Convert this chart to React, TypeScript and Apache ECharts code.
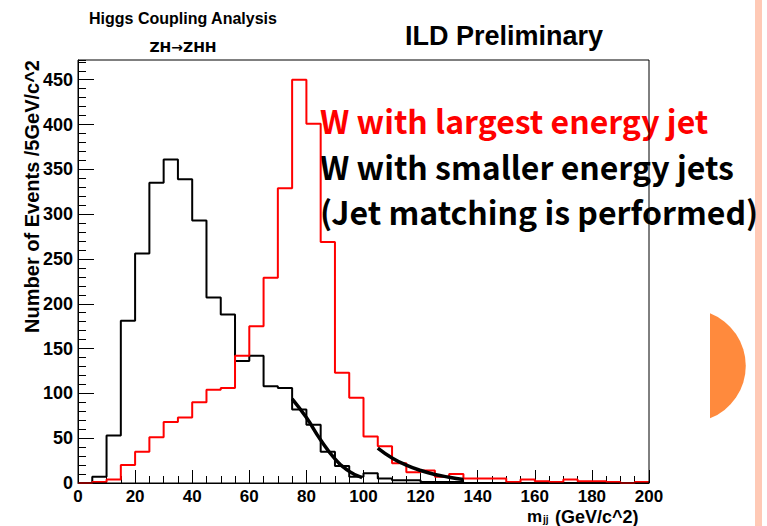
import React, { useEffect, useRef } from "react";
import * as echarts from "echarts";

// ---- data ----
const binWidth = 5;
const xMin = 0;
const xMax = 200;
const yMax = 472;
// counts per 5 GeV bin, 0..200
const blackCounts = [
  0, 7, 53, 181, 256, 335, 361, 339, 293, 207,
  188, 136, 142, 108, 106, 82, 65, 35, 19, 7,
  11, 5, 3, 3, 1, 1, 1, 0, 0, 0,
  0, 0, 0, 0, 0, 0, 0, 0, 0, 0,
];
const redCounts = [
  0, 1, 4, 20, 35, 51, 68, 73, 90, 104,
  106, 142, 175, 229, 329, 450, 401, 269, 123, 95,
  52, 41, 22, 12, 14, 7, 10, 5, 5, 5,
  1, 4, 2, 1, 4, 2, 2, 1, 0, 1,
];
const fitLowX = [75, 80, 85, 90, 95, 99.5];
const fitLowY = [94, 73, 48, 27, 13, 6];
const fitHighX = [105, 110, 115, 120, 125, 130, 135];
const fitHighY = [39, 28, 20, 14, 9.5, 6.5, 4];

const titleMain = "Higgs Coupling Analysis";
const titleSub = "ZH\u2192ZHH";
const titleILD = "ILD Preliminary";
const yTitle = "Number of Events /5GeV/c^2";
const legendLines = [
  { text: "W with largest energy jet", color: "#ff0000" },
  { text: "W with smaller energy jets", color: "#000000" },
  { text: "(Jet matching is performed)", color: "#000000" },
];

const halfDiscPath = "M710 313.3 A56.4 56.4 0 0 1 710 418.3 Z";
echarts.graphic.registerShape("halfDisc", echarts.graphic.extendPath(halfDiscPath, {}) as any);

function histData(counts: number[]) {
  const d: number[][] = counts.map((v, i) => [xMin + i * binWidth, v]);
  d.push([xMin + counts.length * binWidth, counts[counts.length - 1]]);
  return d;
}

const ARIAL = "'Liberation Sans', Arial, Helvetica, sans-serif";
const GOTHIC = "'Noto Sans CJK JP', 'Noto Sans', sans-serif";

export default function App() {
  const ref = useRef<HTMLDivElement>(null);
  useEffect(() => {
    if (!ref.current) return;
    const chart = echarts.init(ref.current, undefined, { renderer: "svg" });
    const tickLabel = { color: "#000", fontFamily: ARIAL, fontWeight: "bold" as const, fontSize: 18 };
    chart.setOption({
      animation: false,
      backgroundColor: "#fff",
      grid: { left: 78, right: 118, top: 60, bottom: 43, show: true, borderColor: "#000", borderWidth: 1, backgroundColor: "transparent", z: 5 },
      xAxis: [
        {
          type: "value", min: xMin, max: xMax, interval: 20,
          axisLine: { show: true, lineStyle: { color: "#000", width: 1 } },
          axisTick: { show: true, inside: true, length: 13, lineStyle: { color: "#000", width: 1 } },
          minorTick: { show: true, splitNumber: 4, length: 7, lineStyle: { color: "#000", width: 1 } },
          splitLine: { show: false }, minorSplitLine: { show: false },
          axisLabel: { ...tickLabel, fontSize: 17, margin: 5 },
        },
      ],
      yAxis: [
        {
          type: "value", min: 0, max: yMax, interval: 50,
          axisLine: { show: true, lineStyle: { color: "#000", width: 1 } },
          axisTick: { show: true, inside: true, length: 16, lineStyle: { color: "#000", width: 1 } },
          splitLine: { show: false },
          axisLabel: { ...tickLabel, margin: 5, showMaxLabel: false },
        },
        {
          type: "value", min: 0, max: yMax, interval: 10, position: "left",
          axisLine: { show: false },
          axisTick: { show: true, inside: true, length: 8, lineStyle: { color: "#000", width: 1 } },
          splitLine: { show: false },
          axisLabel: { show: false },
        },
      ],
      series: [
        {
          type: "line", step: "end", data: histData(blackCounts), showSymbol: false,
          lineStyle: { color: "#000", width: 2 }, itemStyle: { color: "#000" }, z: 2,
        },
        {
          type: "line", step: "end", data: histData(redCounts), showSymbol: false,
          lineStyle: { color: "#ff0000", width: 2 }, itemStyle: { color: "#ff0000" }, z: 3,
        },
        {
          type: "line", smooth: true, data: fitLowX.map((x, i) => [x, fitLowY[i]]), showSymbol: false,
          lineStyle: { color: "#000", width: 3.5 }, itemStyle: { color: "#000" }, z: 4,
        },
        {
          type: "line", smooth: true, data: fitHighX.map((x, i) => [x, fitHighY[i]]), showSymbol: false,
          lineStyle: { color: "#000", width: 3.5 }, itemStyle: { color: "#000" }, z: 4,
        },
      ],
      graphic: [
        { type: "rect", shape: { x: 755, y: 0, width: 7, height: 526 }, style: { fill: "#ffc9b6" }, z: 0 },
        { type: "halfDisc", x: 0, y: 0, style: { fill: "#ff8a3d" }, z: 0 },
        {
          type: "text", x: 183, y: 18, z: 10,
          style: { text: titleMain, fill: "#000", font: `bold 16px ${ARIAL}`, align: "center", verticalAlign: "middle" },
        },
        {
          type: "text", x: 183, y: 47, z: 10,
          style: { text: titleSub, fill: "#000", font: `bold 14px 'DejaVu Sans', sans-serif`, align: "center", verticalAlign: "middle" },
        },
        {
          type: "text", x: 504, y: 36, z: 10,
          style: { text: titleILD, fill: "#000", font: `bold 27px ${ARIAL}`, align: "center", verticalAlign: "middle" },
        },
        {
          type: "text", x: 32, y: 60, rotation: Math.PI / 2, z: 10,
          style: { text: yTitle, fill: "#000", font: `bold 20px ${ARIAL}`, align: "right", verticalAlign: "middle" },
        },
        {
          type: "text", x: 527, y: 516.5, z: 10,
          style: { text: "m", fill: "#000", font: `bold 17px ${ARIAL}`, align: "left", verticalAlign: "middle" },
        },
        {
          type: "text", x: 543, y: 519.5, z: 10,
          style: { text: "jj", fill: "#000", font: `bold 10px ${ARIAL}`, align: "left", verticalAlign: "middle" },
        },
        {
          type: "text", x: 555, y: 516.5, z: 10,
          style: { text: "(GeV/c^2)", fill: "#000", font: `bold 18px ${ARIAL}`, align: "left", verticalAlign: "middle" },
        },
        ...legendLines.map((l, i) => ({
          type: "text", x: 320, y: 120 + i * 45.5, z: 1,
          style: { text: l.text, fill: l.color, font: `bold 32px ${GOTHIC}`, align: "left", verticalAlign: "middle" },
        })),
      ],
    });
    return () => chart.dispose();
  }, []);
  return <div ref={ref} style={{ position: "absolute", left: 0, top: 0, width: 767, height: 526 }} />;
}
